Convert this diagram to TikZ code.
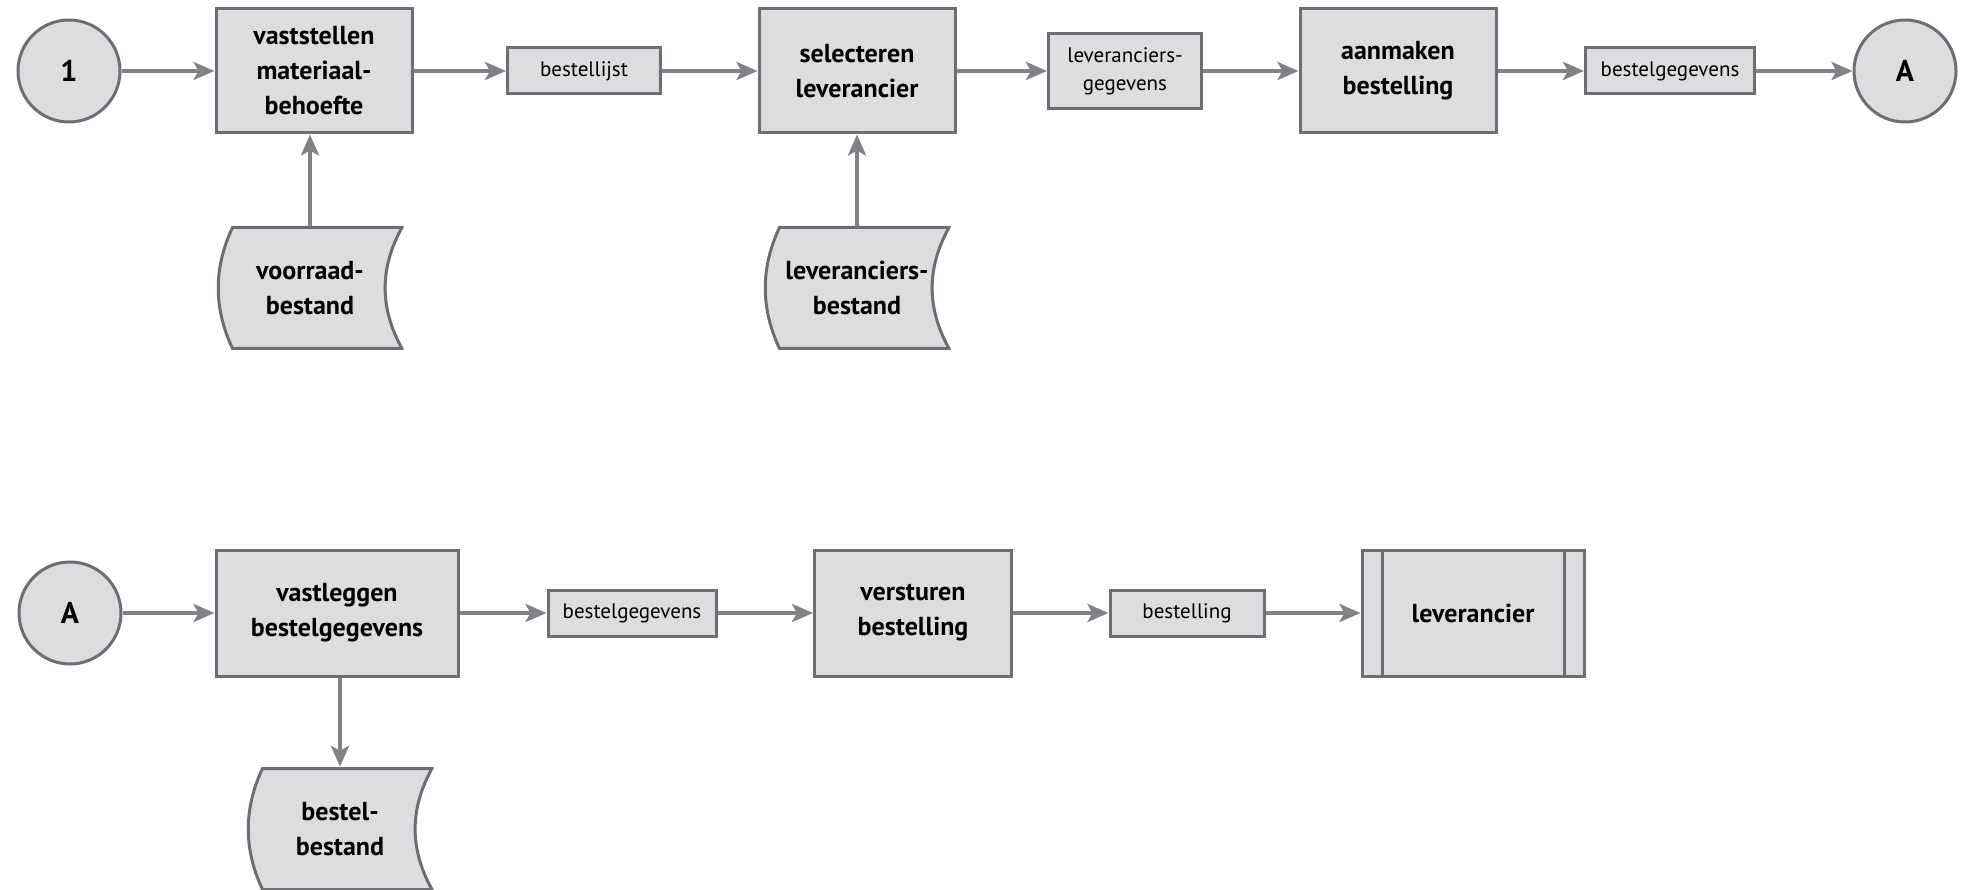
\documentclass[tikz,border=0pt]{standalone}
\usepackage{fontspec}
\setmainfont{PT Sans}
\usetikzlibrary{shapes,arrows.meta,positioning}

\definecolor{vulling}{HTML}{DCDDDF}
\definecolor{rand}{HTML}{6D6E71}
\definecolor{pijlkleur}{HTML}{808285}

\tikzset{
	proces/.style={draw=rand, fill=vulling, line width=3pt, minimum width=196pt, minimum height=124pt, inner sep=0pt, align=center, font=\fontsize{26}{35}\selectfont\bfseries},
	gegevens/.style={draw=rand, fill=vulling, line width=3pt, minimum height=46pt, inner sep=0pt, align=center, font=\fontsize{21}{28}\selectfont},
	verbinding/.style={shape=circle, draw=rand, fill=vulling, line width=3pt, minimum size=102pt, inner sep=0pt, font=\fontsize{30}{36}\selectfont\bfseries},
	bestand/.style={minimum width=187pt, minimum height=124pt, inner sep=0pt, align=center, font=\fontsize{26}{35}\selectfont\bfseries,
		path picture={
			\draw[rand, fill=vulling, line width=3pt]
				([shift={(16,1.5)}]path picture bounding box.north west)
				-- ([shift={(-1.5,1.5)}]path picture bounding box.north east)
				.. controls ([shift={(-24,42)}]path picture bounding box.north east) and ([shift={(-24,-42)}]path picture bounding box.south east)
				.. ([shift={(-1.5,-1.5)}]path picture bounding box.south east)
				-- ([shift={(16,-1.5)}]path picture bounding box.south west)
				.. controls ([shift={(-3,-42)}]path picture bounding box.south west) and ([shift={(-3,42)}]path picture bounding box.north west)
				.. cycle;
		}},
	extern/.style={proces, minimum width=222pt, minimum height=126pt,
		path picture={
			\draw[rand, line width=3pt] ([xshift=20pt]path picture bounding box.north west) -- ([xshift=20pt]path picture bounding box.south west);
			\draw[rand, line width=3pt] ([xshift=-20pt]path picture bounding box.north east) -- ([xshift=-20pt]path picture bounding box.south east);
		}},
	pijl/.style={pijlkleur, line width=4pt, -{Stealth[length=21pt, width=18pt, inset=5pt]}}
}

\begin{document}
\begin{tikzpicture}[x=1pt, y=-1pt]
	\useasboundingbox (0,0) rectangle (1966,890);

	% bovenste rij
	\node[verbinding] (een) at (69,71) {1};
	\node[proces] (vaststellen) at (314,71) {vaststellen\\materiaal-\\behoefte};
	\node[gegevens, minimum width=153pt] (bestellijst) at (584,71) {bestellijst};
	\node[proces] (selecteren) at (857,71) {selecteren\\leverancier};
	\node[gegevens, minimum width=153pt, minimum height=75pt] (levgegevens) at (1125,71) {leveranciers-\\gegevens};
	\node[proces] (aanmaken) at (1398,71) {aanmaken\\bestelling};
	\node[gegevens, minimum width=169pt] (bestelgeg1) at (1670,71) {bestelgegevens};
	\node[verbinding] (a1) at (1905,71) {A};
	\node[bestand] (voorraad) at (310,288) {voorraad-\\bestand};
	\node[bestand] (levbestand) at (857,288) {leveranciers-\\bestand};

	% onderste rij
	\node[verbinding] (a2) at (70,613) {A};
	\node[proces, minimum width=242pt, minimum height=126pt] (vastleggen) at (337,613) {vastleggen\\bestelgegevens};
	\node[gegevens, minimum width=168pt] (bestelgeg2) at (632,613) {bestelgegevens};
	\node[proces, minimum width=197pt, minimum height=126pt] (versturen) at (913,613) {versturen\\bestelling};
	\node[gegevens, minimum width=154pt] (bestelling) at (1187,613) {bestelling};
	\node[extern] (leverancier) at (1473,613) {leverancier};
	\node[bestand] (bestelbestand) at (340,829) {bestel-\\bestand};

	\path [pijl] (een) edge (vaststellen);
	\path [pijl] (vaststellen) edge (bestellijst);
	\path [pijl] (bestellijst) edge (selecteren);
	\path [pijl] (selecteren) edge (levgegevens);
	\path [pijl] (levgegevens) edge (aanmaken);
	\path [pijl] (aanmaken) edge (bestelgeg1);
	\path [pijl] (bestelgeg1) edge (a1);
	\path [pijl] (voorraad.north) edge (voorraad.north |- vaststellen.south);
	\path [pijl] (levbestand.north) edge (levbestand.north |- selecteren.south);

	\path [pijl] (a2) edge (vastleggen);
	\path [pijl] (vastleggen) edge (bestelgeg2);
	\path [pijl] (bestelgeg2) edge (versturen);
	\path [pijl] (versturen) edge (bestelling);
	\path [pijl] (bestelling) edge (leverancier);
	\path [pijl] (bestelbestand.north |- vastleggen.south) edge (bestelbestand.north);
\end{tikzpicture}
\end{document}
